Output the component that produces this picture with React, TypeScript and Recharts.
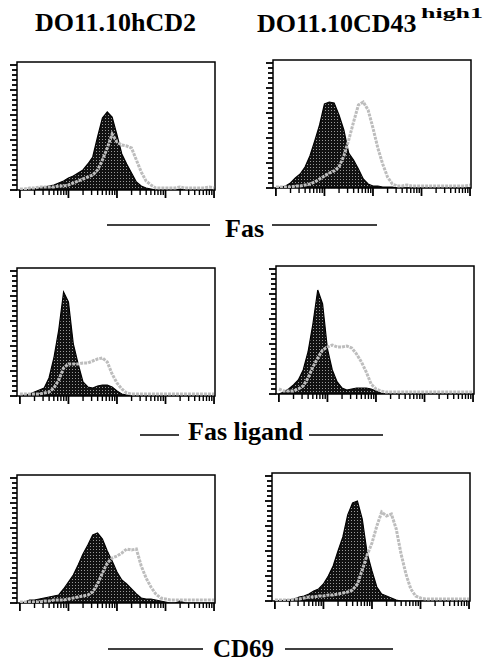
import type { FC } from "react"
import { Area, ComposedChart, Line, ReferenceArea, XAxis, YAxis } from "recharts"

// fluorescence channel, in decades (10^0 .. 10^4)
const DECADES = [
  0, 0.1, 0.2, 0.3, 0.4, 0.5, 0.6, 0.7, 0.8, 0.9,
  1, 1.1, 1.2, 1.3, 1.4, 1.5, 1.6, 1.7, 1.8, 1.9,
  2, 2.1, 2.2, 2.3, 2.4, 2.5, 2.6, 2.7, 2.8, 2.9,
  3, 3.1, 3.2, 3.3, 3.4, 3.5, 3.6, 3.7, 3.8, 3.9, 4,
]

const X_TICK_VALUES = [
  1, 2, 3, 4, 5, 6, 7, 8, 9,
  10, 20, 30, 40, 50, 60, 70, 80, 90,
  100, 200, 300, 400, 500, 600, 700, 800, 900,
  1000, 2000, 3000, 4000, 5000, 6000, 7000, 8000, 9000,
  10000,
]

const Y_TICKS = [0, 5, 10, 15, 20, 25, 30, 35, 40, 45, 50, 55, 60, 65, 70, 75, 80, 85, 90, 95, 100, 105, 110, 115, 120, 125]

// Fas
const HCD2_FAS_DARK = [0, 0, 1, 1, 2, 3, 4, 5, 7, 9, 12, 14, 17, 20, 26, 33, 53, 72, 78, 73, 55, 36, 26, 17, 8, 4, 2, 1, 0, 0, 0, 0, 0, 1, 0, 0, 0, 0, 0, 0, 0]
const HCD2_FAS_LIGHT = [1, 1, 2, 2, 3, 3, 3, 3, 4, 4, 5, 7, 9, 11, 13, 15, 20, 30, 42, 56, 48, 45, 44, 42, 30, 18, 9, 5, 2, 2, 2, 2, 2, 3, 2, 2, 2, 2, 2, 3, 2]
const CD43_FAS_DARK = [0, 1, 2, 5, 10, 14, 21, 32, 47, 63, 84, 86, 85, 73, 58, 35, 28, 19, 9, 4, 2, 2, 1, 1, 1, 0, 0, 0, 0, 0, 0, 0, 0, 0, 0, 0, 0, 0, 0, 0, 0]
const CD43_FAS_LIGHT = [1, 1, 1, 1, 2, 2, 3, 4, 6, 9, 12, 15, 17, 21, 32, 48, 66, 83, 86, 78, 60, 40, 24, 11, 4, 2, 2, 3, 2, 2, 2, 2, 2, 2, 2, 2, 2, 2, 2, 2, 3]

// Fas ligand
const HCD2_FASL_DARK = [0, 1, 2, 4, 6, 8, 18, 38, 66, 104, 94, 52, 32, 14, 9, 8, 10, 11, 11, 9, 5, 2, 1, 0, 0, 0, 0, 0, 0, 0, 0, 0, 0, 0, 0, 0, 0, 0, 0, 0, 0]
const HCD2_FASL_LIGHT = [2, 2, 2, 2, 2, 3, 4, 8, 16, 28, 32, 32, 32, 33, 33, 35, 37, 38, 34, 22, 13, 7, 3, 2, 2, 2, 2, 2, 2, 2, 2, 2, 2, 2, 2, 2, 2, 2, 2, 2, 2]
const CD43_FASL_DARK = [0, 2, 5, 9, 14, 24, 42, 70, 104, 90, 45, 24, 12, 6, 4, 5, 6, 6, 6, 5, 3, 1, 0, 0, 0, 0, 0, 0, 0, 0, 0, 0, 0, 0, 0, 0, 0, 0, 0, 0, 0]
const CD43_FASL_LIGHT = [5, 3, 3, 3, 5, 8, 16, 27, 36, 44, 47, 49, 47, 47, 48, 46, 40, 32, 22, 10, 5, 3, 2, 2, 2, 2, 2, 2, 2, 2, 2, 2, 2, 2, 2, 2, 2, 2, 2, 2, 2]

// CD69
const HCD2_CD69_DARK = [0, 1, 3, 3, 4, 5, 6, 7, 8, 14, 21, 28, 38, 49, 58, 68, 70, 64, 52, 42, 31, 23, 19, 14, 9, 5, 4, 4, 3, 2, 1, 0, 0, 2, 0, 0, 0, 0, 0, 0, 0]
const HCD2_CD69_LIGHT = [1, 1, 1, 1, 1, 2, 2, 3, 3, 3, 4, 5, 6, 7, 8, 11, 19, 30, 40, 45, 47, 50, 54, 53, 54, 37, 25, 16, 9, 5, 4, 3, 3, 3, 3, 3, 3, 3, 3, 3, 3]
const CD43_CD69_DARK = [0, 0, 1, 1, 2, 4, 5, 7, 10, 12, 17, 25, 35, 50, 64, 86, 98, 100, 82, 48, 30, 14, 7, 5, 3, 1, 0, 0, 0, 0, 0, 0, 0, 0, 0, 0, 0, 0, 0, 0, 0]
const CD43_CD69_LIGHT = [1, 1, 1, 1, 2, 2, 3, 4, 4, 5, 5, 6, 6, 7, 8, 9, 11, 17, 31, 46, 58, 75, 89, 85, 87, 72, 47, 27, 12, 5, 3, 2, 2, 2, 2, 2, 2, 2, 2, 2, 2]

const BOX_W = 198
const BOX_H = 128
const X_DOMAIN: [number, number] = [-0.06, 4.02]
const Y_DOMAIN: [number, number] = [0, 128]
const SERIF = "'Liberation Serif', 'Times New Roman', serif"

const PANELS = [
  { left: 17, top: 62, dark: HCD2_FAS_DARK, light: HCD2_FAS_LIGHT },
  { left: 273, top: 60, dark: CD43_FAS_DARK, light: CD43_FAS_LIGHT },
  { left: 17, top: 268, dark: HCD2_FASL_DARK, light: HCD2_FASL_LIGHT },
  { left: 276, top: 266, dark: CD43_FASL_DARK, light: CD43_FASL_LIGHT },
  { left: 17, top: 475, dark: HCD2_CD69_DARK, light: HCD2_CD69_LIGHT },
  { left: 272, top: 473, dark: CD43_CD69_DARK, light: CD43_CD69_LIGHT },
]

const XTick = ({ x, y, payload }: any) => {
  const v = payload.value
  const major = Math.abs(v - Math.round(v)) < 1e-6
  return <line x1={x} x2={x} y1={y} y2={y + (major ? 8 : 5)} stroke="#000" strokeWidth={major ? 1.8 : 1.4} />
}

const YTick = ({ x, y, payload }: any) => {
  const major = payload.value % 25 === 0
  return <line x1={x - (major ? 7 : 5)} x2={x} y1={y} y2={y} stroke="#000" strokeWidth={1.8} />
}

type PanelProps = { left: number; top: number; dark: number[]; light: number[] }

const Histogram: FC<PanelProps> = ({ left, top, dark, light }) => {
  const data = DECADES.map((x, i) => ({ x, dark: dark[i], light: light[i] }))
  return (
    <div style={{ position: "absolute", left: left - 15, top: top - 5 }}>
      <ComposedChart width={BOX_W + 20} height={BOX_H + 20} data={data} margin={{ top: 5, right: 5, left: 5, bottom: 3 }}>
        <defs>
          <pattern id="stipple" width="3" height="3" patternUnits="userSpaceOnUse">
            <rect width="3" height="3" fill="#111" />
            <rect x="1" y="1" width="1" height="1" fill="#9a9a9a" />
          </pattern>
        </defs>
        <XAxis
          dataKey="x"
          type="number"
          domain={X_DOMAIN}
          allowDataOverflow
          ticks={X_TICK_VALUES.map((v) => Math.log10(v))}
          interval={0}
          tickSize={0}
          tickMargin={0}
          axisLine={false}
          tickLine={false}
          tick={XTick}
          height={12}
        />
        <YAxis
          type="number"
          domain={Y_DOMAIN}
          allowDataOverflow
          ticks={Y_TICKS}
          interval={0}
          tickSize={0}
          tickMargin={0}
          axisLine={false}
          tickLine={false}
          tick={YTick}
          width={10}
        />
        <Area
          type="linear"
          dataKey="dark"
          stroke="#000"
          strokeWidth={1.2}
          fill="url(#stipple)"
          fillOpacity={1}
          dot={false}
          activeDot={false}
          isAnimationActive={false}
        />
        <Line
          type="linear"
          dataKey="light"
          stroke="#bdbdbd"
          strokeWidth={3}
          strokeDasharray="3 1"
          dot={false}
          activeDot={false}
          isAnimationActive={false}
        />
        <ReferenceArea
          x1={X_DOMAIN[0]}
          x2={X_DOMAIN[1]}
          y1={Y_DOMAIN[0]}
          y2={Y_DOMAIN[1]}
          fill="none"
          stroke="#000"
          strokeWidth={1.5}
          ifOverflow="visible"
        />
      </ComposedChart>
    </div>
  )
}

const Rule = ({ x1, x2, y }: { x1: number; x2: number; y: number }) => (
  <line x1={x1} x2={x2} y1={y} y2={y} stroke="#000" strokeWidth={1.5} />
)

export default function App() {
  return (
    <div style={{ position: "absolute", left: 0, top: 0, width: 485, height: 664, background: "#fff", overflow: "hidden" }}>
      {PANELS.map((p, i) => (
        <Histogram key={i} {...p} />
      ))}
      <svg width={485} height={664} style={{ position: "absolute", left: 0, top: 0, pointerEvents: "none" }}>
        <g fontFamily={SERIF} fontWeight="bold" fill="#000">
          <text x={35} y={31} fontSize={26}>DO11.10hCD2</text>
          <text x={257} y={32} fontSize={26}>DO11.10CD43</text>
          <text x={421} y={18} fontSize={15} textLength={62} lengthAdjust="spacingAndGlyphs">high1</text>

          <text x={225} y={237} fontSize={26}>Fas</text>
          <text x={188} y={440} fontSize={26}>Fas ligand</text>
          <text x={213} y={657} fontSize={25}>CD69</text>
        </g>
        <Rule x1={107} x2={210} y={225} />
        <Rule x1={272} x2={377} y={225} />
        <Rule x1={140} x2={179} y={435} />
        <Rule x1={309} x2={383} y={435} />
        <Rule x1={108} x2={203} y={649} />
        <Rule x1={285} x2={393} y={649} />
      </svg>
    </div>
  )
}
